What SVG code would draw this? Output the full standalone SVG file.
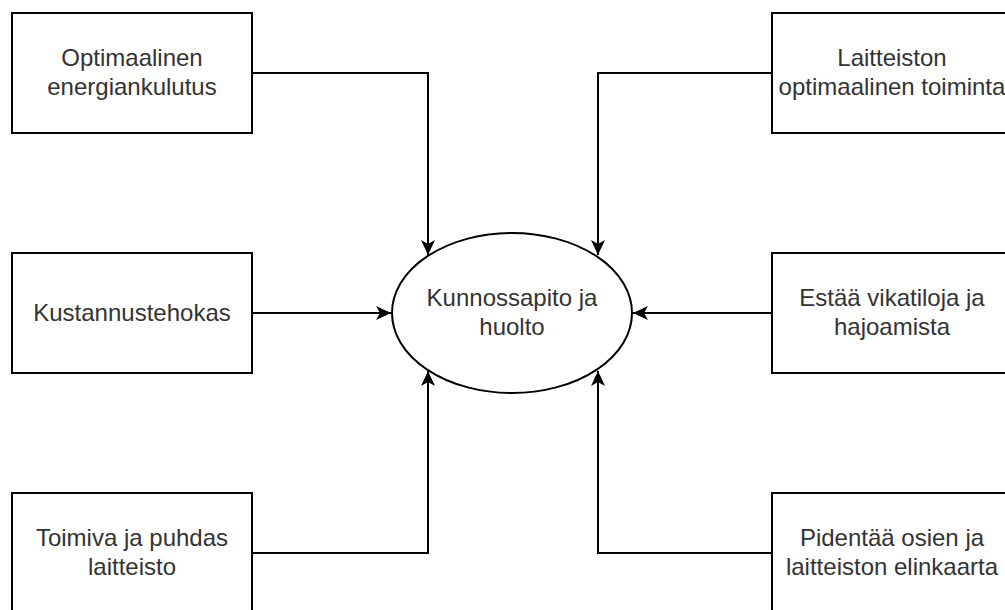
<svg xmlns="http://www.w3.org/2000/svg" width="1005" height="610" viewBox="0 0 1005 610">
<style>
.box{fill:#fff;stroke:#000;stroke-width:2}
.lbl{font-family:"Liberation Sans",Arial,sans-serif;font-size:24px;fill:#333;text-anchor:middle}
.edge{fill:none;stroke:#000;stroke-width:2}
</style>
<defs>
<marker id="arr" markerUnits="userSpaceOnUse" markerWidth="16" markerHeight="14" viewBox="0 0 16 14" refX="15" refY="7" orient="auto">
<path d="M0,0 L15,7 L0,14 L4,7 Z" fill="#000"/>
</marker>
</defs>
<rect width="1005" height="610" fill="#fff"/>
<g id="connectors">
<path class="edge" d="M252,73 L428,73 L428,255" marker-end="url(#arr)"/>
<path class="edge" d="M772,73 L598,73 L598,255" marker-end="url(#arr)"/>
<path class="edge" d="M252,313 L391,313" marker-end="url(#arr)"/>
<path class="edge" d="M772,313 L633,313" marker-end="url(#arr)"/>
<path class="edge" d="M252,553 L428,553 L428,371" marker-end="url(#arr)"/>
<path class="edge" d="M772,553 L598,553 L598,371" marker-end="url(#arr)"/>
</g>
<g id="n1"><rect class="box" x="12" y="13" width="240" height="120"/><text class="lbl" x="132" y="66">Optimaalinen</text><text class="lbl" x="132" y="95">energiankulutus</text></g>
<g id="n2"><rect class="box" x="12" y="253" width="240" height="120"/><text class="lbl" x="132" y="321">Kustannustehokas</text></g>
<g id="n3"><rect class="box" x="12" y="493" width="240" height="120"/><text class="lbl" x="132" y="546">Toimiva ja puhdas</text><text class="lbl" x="132" y="575">laitteisto</text></g>
<g id="n4"><rect class="box" x="772" y="13" width="240" height="120"/><text class="lbl" x="892" y="66">Laitteiston</text><text class="lbl" x="892" y="95">optimaalinen toiminta</text></g>
<g id="n5"><rect class="box" x="772" y="253" width="240" height="120"/><text class="lbl" x="892" y="306">Estää vikatiloja ja</text><text class="lbl" x="892" y="335">hajoamista</text></g>
<g id="n6"><rect class="box" x="772" y="493" width="240" height="120"/><text class="lbl" x="892" y="546">Pidentää osien ja</text><text class="lbl" x="892" y="575">laitteiston elinkaarta</text></g>
<g id="center"><ellipse class="box" cx="512" cy="313" rx="120" ry="80"/><text class="lbl" x="512" y="306">Kunnossapito ja</text><text class="lbl" x="512" y="335">huolto</text></g>
</svg>
